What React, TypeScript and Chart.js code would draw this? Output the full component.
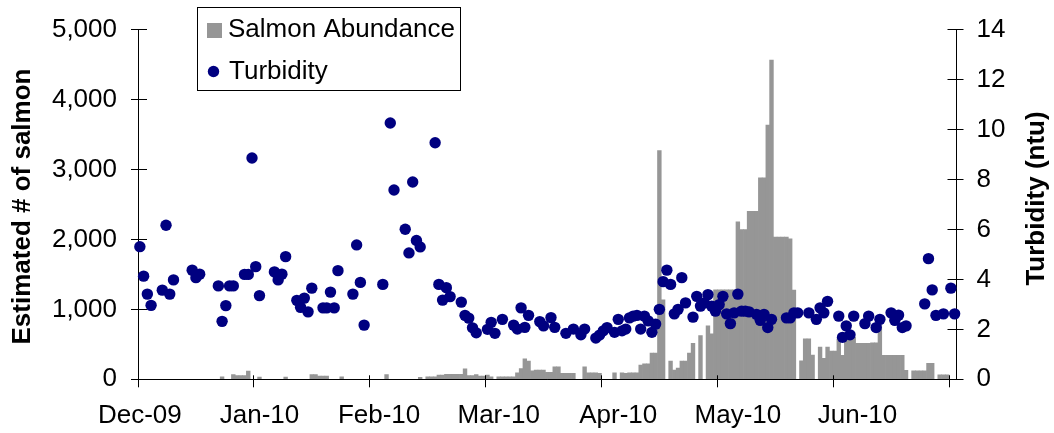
import React, { useEffect, useRef } from 'react';
import { Chart, registerables } from 'chart.js';

Chart.register(...registerables);

// ---------- Text ----------
const tickLabels = ['Dec-09', 'Jan-10', 'Feb-10', 'Mar-10', 'Apr-10', 'May-10', 'Jun-10'];
const LABEL_EVERY = 32; // a month label every 32 days
const TICK_EVERY = 31; // a tick mark every 31 days
const leftTitle = 'Estimated # of salmon';
const rightTitle = 'Turbidity (ntu)';
const legendSalmon = 'Salmon Abundance';
const legendTurbidity = 'Turbidity';

// ---------- Salmon abundance (estimated fish per day, from 1 Dec 2009) ----------
const salmonDec = [0, 0, 0, 0, 0, 0, 0, 0, 0, 0, 0, 0, 0, 0, 0, 0, 0, 0, 0, 0, 0, 0, 37, 0, 0, 66, 52, 52, 52, 117, 0];
const salmonJan = [0, 33, 0, 0, 0, 0, 0, 0, 33, 0, 0, 0, 0, 0, 0, 66, 66, 45, 45, 45, 0, 0, 0, 37, 0, 0, 0, 0, 0, 0, 0];
const salmonFeb = [0, 0, 0, 0, 66, 0, 0, 0, 0, 0, 0, 0, 0, 28, 0, 37, 37, 37, 61, 61, 70, 70, 70, 70, 70, 150, 52, 52];
const salmonMar = [66, 47, 47, 61, 37, 0, 37, 37, 37, 37, 37, 94, 155, 291, 260, 122, 131, 131, 131, 98, 98, 178, 178, 84, 84, 84, 84, 0, 0, 178, 94];
const salmonApr = [94, 94, 84, 0, 0, 0, 94, 0, 94, 84, 94, 94, 94, 202, 220, 220, 375, 375, 3272, 1135, 0, 262, 131, 160, 262, 262, 375, 516, 0, 624];
const salmonMay = [0, 764, 650, 1280, 1280, 1280, 1280, 1280, 1280, 2250, 2140, 2140, 2400, 2400, 2400, 2880, 2880, 3635, 4565, 2035, 2035, 2035, 2035, 2010, 1275, 0, 265, 577, 577, 345, 0];
const salmonJun = [459, 300, 459, 405, 405, 577, 342, 600, 600, 600, 516, 516, 516, 516, 520, 520, 775, 342, 342, 342, 342, 342, 342, 127, 0, 122, 122, 122, 122, 230];
const salmonJul = [230, 0, 65, 65, 65, 0, 0];

// ---------- Turbidity (ntu), null = no reading ----------
const turbDec = [5.31, 4.13, 3.41, 2.96, null, null, 3.57, 6.17, 3.41, 3.98, null, null, null, null, 4.37, 4.07, 4.21, null, null, null, null, 3.74, 2.32, 2.95, 3.74, 3.74, null, null, 4.2, 4.2, 8.86];
const turbJan = [4.51, 3.35, null, null, null, 4.3, 3.98, 4.21, 4.91, null, null, 3.16, 2.88, 3.25, 2.7, 3.65, null, null, 2.86, 2.86, 3.49, 2.86, 4.35, null, null, null, 3.41, 5.38, 3.88, 2.17, null];
const turbFeb = [null, null, null, 3.8, null, 10.26, 7.58, null, null, 6.01, 5.06, 7.9, 5.56, 5.3, null, null, null, 9.47, 3.8, 3.17, 3.67, 3.31, null, null, 3.09, 2.56, 2.45, 2.06];
const turbMar = [1.86, null, null, 2.0, 2.28, 1.84, null, 2.4, null, null, 2.17, 2.01, 2.86, 2.08, 2.56, null, null, 2.31, 2.14, null, 2.47, 2.08, null, null, 1.84, null, 2.01, null, 1.78, 2.01, null];
const turbApr = [null, 1.65, 1.77, 1.94, 2.07, null, 1.88, 2.4, 1.94, 2.01, 2.46, 2.53, 2.56, 2.01, 2.53, 2.34, 1.88, 2.21, 2.8, 3.91, 4.37, 3.8, 2.62, 2.8, 4.07, 3.06, null, 2.49, 3.32, 2.93];
const turbMay = [3.06, 3.39, 2.93, 2.73, 2.99, 3.32, 2.62, 2.23, 2.66, 3.41, 2.73, 2.73, 2.7, null, 2.6, 2.36, 2.6, 2.07, 2.4, null, null, null, 2.46, 2.46, 2.66, 2.66, null, null, 2.66, null, 2.4];
const turbJun = [2.86, 2.66, 3.12, null, null, 2.53, 1.68, 2.14, 1.78, 2.53, null, null, 2.23, 2.53, null, 2.07, 2.4, null, null, 2.66, 2.36, 2.57, 2.07, 2.14, null, null, null, null, 3.02, 4.83];
const turbJul = [3.58, 2.56, null, 2.62, null, 3.65, 2.62];

const salmon = [...salmonDec, ...salmonJan, ...salmonFeb, ...salmonMar, ...salmonApr, ...salmonMay, ...salmonJun, ...salmonJul];
const turbidity = [...turbDec, ...turbJan, ...turbFeb, ...turbMar, ...turbApr, ...turbMay, ...turbJun, ...turbJul];

// daily categories starting 1 Dec 2009
const categories: string[] = [];
for (let i = 0; i < salmon.length; i++) {
  const d = new Date(Date.UTC(2009, 11, 1) + i * 86400000);
  categories.push(d.toISOString().slice(0, 10));
}

const FONT = "'Liberation Sans', Arial, sans-serif";
const BAR_COLOR = '#969696';
const DOT_COLOR = '#000080';

const align = (p: number) => Math.round(p - 0.5) + 0.5;

const overlay = {
  id: 'overlay',
  afterDraw(chart: any) {
    const { ctx, chartArea, scales } = chart;
    const xs = scales.x;
    const ys = scales.y;
    const y1s = scales.y1;
    ctx.save();
    ctx.strokeStyle = '#000';
    ctx.lineWidth = 1;
    ctx.beginPath();
    // bottom axis line on top of bars
    const by = align(chartArea.bottom);
    ctx.moveTo(chartArea.left, by);
    ctx.lineTo(chartArea.right, by);
    // inner parts of the crossing tick marks
    ys.ticks.forEach((t: any) => {
      const py = align(ys.getPixelForValue(t.value));
      ctx.moveTo(chartArea.left, py);
      ctx.lineTo(chartArea.left + 9, py);
    });
    y1s.ticks.forEach((t: any) => {
      const py = align(y1s.getPixelForValue(t.value));
      ctx.moveTo(chartArea.right - 9, py);
      ctx.lineTo(chartArea.right, py);
    });
    const cw = xs.getPixelForValue(1) - xs.getPixelForValue(0);
    for (let i = 0; i < categories.length; i += TICK_EVERY) {
      const px = align(xs.getPixelForValue(i) - cw / 2);
      ctx.moveTo(px, chartArea.bottom);
      ctx.lineTo(px, chartArea.bottom - 4);
    }
    ctx.stroke();

    // axis titles
    ctx.fillStyle = '#000';
    ctx.font = `bold 26px ${FONT}`;
    ctx.textAlign = 'center';
    ctx.textBaseline = 'middle';
    ctx.save();
    ctx.translate(22.7, 206.5);
    ctx.rotate(-Math.PI / 2);
    ctx.fillText(leftTitle, 0, 0);
    ctx.restore();
    ctx.save();
    ctx.translate(1036.6, 198.5);
    ctx.rotate(-Math.PI / 2);
    ctx.fillText(rightTitle, 0, 0);
    ctx.restore();

    // legend
    ctx.fillStyle = '#fff';
    ctx.fillRect(197.5, 7.5, 263, 83);
    ctx.strokeStyle = '#000';
    ctx.strokeRect(197.5, 7.5, 263, 83);
    ctx.fillStyle = BAR_COLOR;
    ctx.fillRect(207, 23, 15, 15);
    ctx.fillStyle = DOT_COLOR;
    ctx.beginPath();
    ctx.arc(213.5, 71.5, 5.7, 0, Math.PI * 2);
    ctx.fill();
    ctx.fillStyle = '#000';
    ctx.font = `26px ${FONT}`;
    ctx.textAlign = 'left';
    ctx.textBaseline = 'alphabetic';
    ctx.fillText(legendSalmon, 228, 37);
    ctx.fillText(legendTurbidity, 229, 79.3);
    ctx.restore();
  },
};

export default function App() {
  const ref = useRef<HTMLCanvasElement>(null);
  useEffect(() => {
    const canvas = ref.current;
    if (!canvas) return;
    const tickFont = { family: FONT, size: 26 };
    const chart = new Chart(canvas, {
      type: 'bar',
      data: {
        labels: categories,
        datasets: [
          {
            type: 'line',
            label: legendTurbidity,
            data: turbidity as any,
            yAxisID: 'y1',
            showLine: false,
            pointRadius: 5.7,
            pointHoverRadius: 5.7,
            pointBackgroundColor: DOT_COLOR,
            pointBorderColor: DOT_COLOR,
            pointBorderWidth: 0,
            clip: false as any,
            order: 0,
          } as any,
          {
            type: 'bar',
            label: legendSalmon,
            data: salmon,
            yAxisID: 'y',
            backgroundColor: BAR_COLOR,
            borderWidth: 0,
            barPercentage: 1,
            categoryPercentage: 1,
            order: 1,
          } as any,
        ],
      },
      options: {
        responsive: false,
        animation: false,
        events: [],
        layout: { padding: { top: 23.7, left: 0, right: 0, bottom: 0 } },
        plugins: { legend: { display: false }, tooltip: { enabled: false } },
        scales: {
          x: {
            type: 'category',
            offset: true,
            grid: {
              display: true,
              offset: true,
              drawOnChartArea: false,
              drawTicks: true,
              tickLength: 8,
              lineWidth: 1,
              color: (ctx: any) => (typeof ctx.index === 'number' && ctx.index % TICK_EVERY === 0 ? '#000' : 'rgba(0,0,0,0)'),
            },
            border: { display: true, color: '#000', width: 1 },
            ticks: {
              autoSkip: false,
              maxRotation: 0,
              minRotation: 0,
              padding: 13,
              color: '#000',
              font: tickFont,
              callback: (_v: any, i: number) => (i % LABEL_EVERY === 0 ? tickLabels[i / LABEL_EVERY] ?? '' : ''),
            },
            afterFit: (s: any) => {
              s.height = 433 - 379.3;
            },
          },
          y: {
            type: 'linear',
            position: 'left',
            min: 0,
            max: 5000,
            grid: { drawOnChartArea: false, tickLength: 7, color: '#000' },
            border: { display: true, color: '#000', width: 1 },
            ticks: {
              stepSize: 1000,
              padding: 14,
              color: '#000',
              font: tickFont,
              callback: (v: any) => Number(v).toLocaleString('en-US'),
            },
            afterFit: (s: any) => {
              s.width = 138;
            },
          },
          y1: {
            type: 'linear',
            position: 'right',
            min: 0,
            max: 14,
            grid: { drawOnChartArea: false, tickLength: 7, color: '#000' },
            border: { display: true, color: '#000', width: 1 },
            ticks: { stepSize: 2, padding: 13, color: '#000', font: tickFont },
            afterFit: (s: any) => {
              s.width = 1054 - 956.5;
            },
          },
        },
      },
      plugins: [overlay],
    } as any);
    return () => chart.destroy();
  }, []);
  return (
    <div style={{ position: 'absolute', left: 0, top: 0, width: 1054, height: 433, background: '#fff' }}>
      <canvas ref={ref} width={1054} height={433} style={{ display: 'block', width: 1054, height: 433 }} />
    </div>
  );
}
